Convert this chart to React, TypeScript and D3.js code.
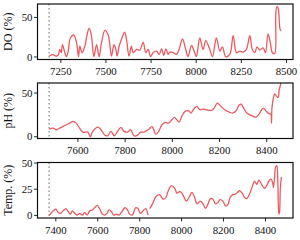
import React from "react";
import * as d3 from "d3";

const doX = [7185,7207,7222,7235,7244,7252,7259,7272,7281,7291,7303,7322,7337,7348,7355,7368,7383,7398,7407,7420,7433,7448,7462,7475,7494,7512,7531,7544,7555,7562,7573,7592,7604,7614,7628,7641,7651,7669,7688,7706,7721,7734,7747,7761,7780,7795,7808,7820,7832,7844,7854,7872,7891,7905,7924,7942,7955,7974,7992,8001,8020,8038,8053,8072,8090,8112,8131,8145,8164,8186,8205,8223,8241,8260,8278,8297,8311,8325,8337,8352,8371,8384,8398,8411,8422,8435,8441,8448,8455,8466,8472];
const doY = [1.2,2.9,1.2,2,9.5,5.4,15.7,5.4,0.4,7.4,24,27.7,17.8,0.4,13.6,5.4,13.6,31,36.4,26,0.4,15.7,0.4,17.8,33.5,28,1.2,15.7,9.5,1.2,13.6,26,31.4,21.9,1.2,13.6,5.4,9.5,8.7,18.6,5.4,9.5,0.4,5.4,7.4,3.3,10.3,2,10.3,3.3,6.2,5.4,3.3,9.5,22.7,9.5,0.4,14.5,5.4,0.4,24,9.5,20.7,11.6,0.4,24,7.4,12.8,0.4,3.3,26.9,5.4,7.4,6.2,9.5,26.9,9.5,5.4,12.8,8.7,11.6,5.4,29.3,17.8,5.4,4.5,55,64,61,34.3,33.5];

const phX = [7478,7495,7509,7523,7537,7551,7565,7579,7593,7607,7621,7642,7652,7663,7684,7698,7712,7726,7740,7754,7768,7782,7796,7810,7824,7837,7851,7865,7879,7898,7914,7930,7942,7956,7970,7984,7998,8009,8019,8029,8040,8054,8068,8079,8089,8103,8117,8131,8145,8166,8177,8191,8200,8214,8228,8242,8256,8270,8284,8291,8302,8316,8333,8354,8368,8378,8386,8396,8410,8417,8420,8422,8428,8434,8442,8448,8453,8459,8462];
const phY = [8.8,9.9,8,9.9,11.8,13.7,15.6,17.6,15.6,9.9,5.3,5.3,0,6.1,11.1,8,2.3,1.1,6.1,1.1,6.1,10.7,6.1,5.3,8,1.1,1.5,5.3,5.3,8,11.5,3,6.1,13.7,16.4,15.6,19.5,22.1,19.5,16.8,23.3,29,29.8,27.1,30.9,34.7,30.9,31.7,30.9,30.2,32.8,38.5,36.6,32.8,29.8,28.2,27.1,29.8,36.6,37.4,32.8,27.1,24.4,22.5,26,30.9,32.8,29.8,26.3,26,15.6,32.8,44.3,48.9,46.2,45,53.8,60.3,66];

const tempX = [7368,7380,7391,7400,7411,7422,7435,7448,7459,7470,7479,7491,7502,7514,7527,7538,7549,7562,7575,7586,7597,7610,7622,7633,7644,7654,7665,7676,7689,7701,7718,7729,7740,7752,7765,7781,7792,7803,7816,7829,7840,7844,7848,7860,7879,7895,7911,7924,7935,7951,7967,7978,7994,8010,8022,8038,8049,8062,8073,8089,8102,8114,8125,8137,8149,8162,8173,8184,8197,8210,8221,8232,8244,8257,8268,8276,8289,8300,8311,8324,8337,8348,8359,8368,8379,8395,8406,8419,8427,8435,8438,8443,8448,8454,8459,8464,8467,8471,8476];
const tempY: (number | null)[] = [0,2.8,4.9,5.9,2.8,1.9,4.3,6.5,3.7,1.2,4.3,1.9,0.3,1.9,0.3,2.8,0.3,4.3,5.2,7.4,9.6,5.9,1.2,0.3,1.9,5.2,3.7,0.3,1.2,0.3,4.3,7.4,5.9,1.2,0.3,7.4,6.5,1.9,4.3,6.5,0.3,null,6.5,10.5,18.2,19.8,15.6,16.7,22.8,28.4,25.9,21.3,22.8,18.2,13.6,18.2,21.9,17.3,11.1,13.6,11.1,6.8,10.5,16,15.7,11.1,12,15.1,13.6,9,10.5,17.3,19.8,20.4,22.2,23.5,21.3,17.3,16,20.4,27.5,32.7,29.6,33.6,30.6,25.9,28.4,33.6,34.6,30.6,26.5,35.2,46,47.5,32.1,1.2,2.8,25.9,36.7];

const doTicksX = [7250, 7500, 7750, 8000, 8250, 8500];
const phTicksX = [7600, 7800, 8000, 8200, 8400];
const tempTicksX = [7400, 7600, 7800, 8000, 8200, 8400];
const doTicksY = [0, 50];
const phTicksY = [0, 50];
const tempTicksY = [0, 25, 50];

const labels = ["DO (%)", "pH (%)", "Temp. (%)"];

const LEFT = 37.5;
const RIGHT = 293;
const H = 55.5;
const TOPS = [4, 83, 162.5];
const LINE = "#ec5a5f";
const FONT = "'Liberation Serif', 'DejaVu Serif', serif";

type PanelProps = {
  xs: number[];
  ys: (number | null)[];
  xTicks: number[];
  yTicks: number[];
  yDomain: [number, number];
  top: number;
  label: string;
  id: string;
};

function Panel({ xs, ys, xTicks, yTicks, yDomain, top, label, id }: PanelProps) {
  const ext = d3.extent(xs) as [number, number];
  const pad = (ext[1] - ext[0]) * 0.05;
  const x = d3.scaleLinear().domain([ext[0] - pad, ext[1] + pad]).range([LEFT, RIGHT]);
  const y = d3.scaleLinear().domain(yDomain).range([top + H, top]);
  const pts = xs.map((v, i) => [v, ys[i]] as [number, number | null]);
  const line = d3
    .line<[number, number | null]>()
    .defined((d) => d[1] !== null)
    .x((d) => x(d[0]))
    .y((d) => y(d[1] as number))
    .curve(d3.curveCatmullRom.alpha(0.5));
  const bottom = top + H;
  return (
    <g>
      <defs>
        <clipPath id={id}>
          <rect x={LEFT} y={top} width={RIGHT - LEFT} height={H} />
        </clipPath>
      </defs>
      <line
        x1={x(xs[0])}
        x2={x(xs[0])}
        y1={top}
        y2={bottom}
        stroke="#a8a8a8"
        strokeWidth={1.7}
        strokeDasharray="1.6,2.4"
      />
      <path
        d={line(pts) || ""}
        fill="none"
        stroke={LINE}
        strokeWidth={1.3}
        clipPath={`url(#${id})`}
      />
      <rect x={LEFT} y={top} width={RIGHT - LEFT} height={H} fill="none" stroke="#111" strokeWidth={1.2} />
      {xTicks.map((t) => (
        <g key={t}>
          <line x1={x(t)} x2={x(t)} y1={bottom} y2={bottom + 3.5} stroke="#111" strokeWidth={0.9} />
          <text x={x(t)} y={bottom + 15.5} textAnchor="middle" fontSize={10.8} fontFamily={FONT} fill="#111">
            {t}
          </text>
        </g>
      ))}
      {yTicks.map((t) => (
        <g key={t}>
          <line x1={LEFT - 3.5} x2={LEFT} y1={y(t)} y2={y(t)} stroke="#111" strokeWidth={0.9} />
          <text x={LEFT - 5} y={y(t) + 3.6} textAnchor="end" fontSize={10.8} fontFamily={FONT} fill="#111">
            {t}
          </text>
        </g>
      ))}
      <text
        transform={`translate(11.5,${top + H / 2}) rotate(-90)`}
        textAnchor="middle"
        fontSize={12}
        fontFamily={FONT}
        fill="#111"
      >
        {label}
      </text>
    </g>
  );
}

export default function App() {
  return (
    <svg
      width={300}
      height={240}
      style={{ position: "absolute", left: 0, top: 0, background: "#fff" }}
    >
      <Panel xs={doX} ys={doY} xTicks={doTicksX} yTicks={doTicksY} yDomain={[-3.2, 67]} top={TOPS[0]} label={labels[0]} id="c0" />
      <Panel xs={phX} ys={phY} xTicks={phTicksX} yTicks={phTicksY} yDomain={[-2, 61.5]} top={TOPS[1]} label={labels[1]} id="c1" />
      <Panel xs={tempX} ys={tempY} xTicks={tempTicksX} yTicks={tempTicksY} yDomain={[-2.5, 50.5]} top={TOPS[2]} label={labels[2]} id="c2" />
    </svg>
  );
}
